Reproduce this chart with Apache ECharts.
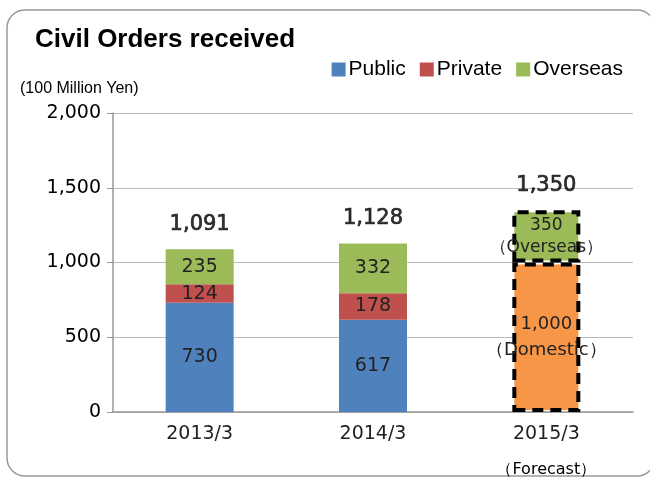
<!DOCTYPE html>
<html>
<head>
<meta charset="utf-8">
<script src="https://cdn.jsdelivr.net/npm/echarts@6/dist/echarts.min.js"></script>
<style>
  html, body { margin: 0; padding: 0; background: #fff; }
  #chart { width: 650px; height: 479px; }
</style>
</head>
<body>
<div id="chart"></div>
<script>
const categories = ['2013/3', '2014/3', '2015/3'];
const publicOrders = [730, 617, '-'];
const privateOrders = [124, 178, '-'];
const domesticForecast = ['-', '-', 1000];
const overseasOrders = [235, 332, 350];
const totals = [1091, 1128, 1350];
const yTicks = [0, 500, 1000, 1500, 2000];

const FONT = '"DejaVu Sans", sans-serif';
const ARIAL = '"Liberation Sans", Arial, sans-serif';
const fmt = v => v.toLocaleString('en-US');
const dashed = { borderColor: '#000', borderWidth: 4, borderType: [11, 7] };

const chart = echarts.init(document.getElementById('chart'));

chart.setOption({
    animation: false,
    backgroundColor: '#fff',
    graphic: [
        {
            type: 'rect',
            shape: { x: 7, y: 10, width: 648, height: 466, r: 18 },
            style: { fill: 'none', stroke: '#999', lineWidth: 1.5 }
        },
        {
            type: 'text', left: 35, top: 27,
            style: { text: 'Civil Orders received', font: 'bold 26px ' + ARIAL, fill: '#000' }
        },
        {
            type: 'text', left: 20, top: 81,
            style: { text: '(100 Million Yen)', font: '16px ' + ARIAL, fill: '#000' }
        }
    ],
    legend: {
        data: ['Public', 'Private', 'Overseas'],
        right: 22, top: 54,
        itemWidth: 14, itemHeight: 14, itemGap: 14,
        icon: 'rect',
        textStyle: { fontSize: 21, color: '#000', fontFamily: ARIAL, padding: [0, 0, 0, -2] }
    },
    grid: { left: 113, right: 17, top: 113, bottom: 67, outerBoundsMode: 'none' },
    xAxis: {
        type: 'category',
        data: categories,
        axisLine: { lineStyle: { color: '#999', width: 1.5 } },
        axisTick: { lineStyle: { color: '#999' }, length: 6 },
        axisLabel: {
            interval: 0,
            margin: 13,
            fontSize: 19, color: '#222', fontFamily: FONT,
            formatter: (v, i) => i === 2 ? v + '\n{f|（Forecast）}' : v,
            rich: { f: { fontSize: 16, color: '#000', fontFamily: FONT, padding: [18, 0, 0, 0] } }
        }
    },
    yAxis: {
        type: 'value',
        min: yTicks[0], max: yTicks[yTicks.length - 1], interval: 500,
        axisLine: { show: true, lineStyle: { color: '#999', width: 1.5 } },
        axisTick: { show: true, inside: false, length: 6, lineStyle: { color: '#999' } },
        axisLabel: { fontSize: 19, color: '#000', fontFamily: FONT, margin: 12, formatter: v => fmt(v) },
        splitLine: { lineStyle: { color: '#bbb', width: 1.2 } }
    },
    series: [
        {
            name: 'Public', type: 'bar', stack: 'total', barWidth: 68,
            itemStyle: { color: '#4f81bd' },
            label: { show: true, position: 'inside', fontSize: 19, color: '#222', fontFamily: FONT },
            data: publicOrders
        },
        {
            name: 'Private', type: 'bar', stack: 'total',
            itemStyle: { color: '#c0504d' },
            label: { show: true, position: 'inside', fontSize: 19, color: '#222', fontFamily: FONT },
            data: privateOrders
        },
        {
            name: 'Domestic', type: 'bar', stack: 'total',
            itemStyle: Object.assign({ color: '#f79646' }, dashed),
            label: {
                show: true, position: 'inside', fontSize: 18, color: '#222', fontFamily: FONT, lineHeight: 26,
                formatter: p => fmt(p.value) + '\n（Domestic）'
            },
            data: domesticForecast
        },
        {
            name: 'Overseas', type: 'bar', stack: 'total',
            itemStyle: { color: '#9bbb59' },
            label: { show: true, position: 'inside', fontSize: 19, color: '#222', fontFamily: FONT, lineHeight: 22 },
            data: overseasOrders.map((v, i) => i === 2
                ? { value: v, itemStyle: dashed, label: { fontSize: 17, formatter: fmt(v) + '\n（Overseas）' } }
                : v)
        },
        {
            name: 'Total', type: 'scatter', symbolSize: 0,
            label: {
                show: true, position: 'top', distance: 14,
                fontSize: 21, color: '#000', fontFamily: FONT,
                textBorderColor: '#000', textBorderWidth: 0.7,
                formatter: p => fmt(p.value)
            },
            data: totals
        }
    ]
});
</script>
</body>
</html>
